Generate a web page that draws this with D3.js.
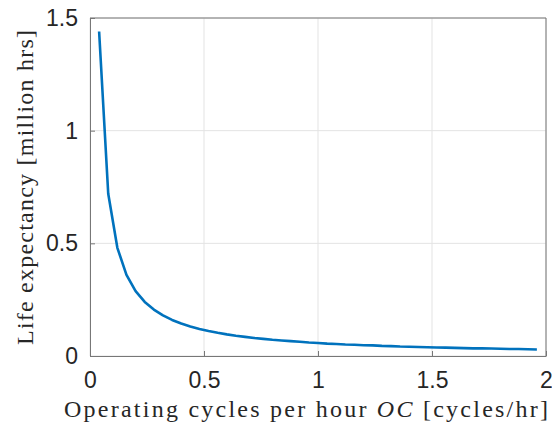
<!DOCTYPE html>
<html lang="en">
<head>
    <meta charset="utf-8">
    <title>Life expectancy</title>
    <script type="text/javascript" src="https://d3js.org/d3.v7.min.js"></script>
    <style>
        body { margin: 0; background: #fff; }
        .tick text { font-family: "Liberation Sans", Arial, sans-serif; fill: #262626; }
        .lbl { font-family: "Liberation Serif", "DejaVu Serif", serif; fill: #262626; }
    </style>
</head>
<body>
    <div id="chart"></div>
    <script type="text/javascript">
        // operating cycles per hour
        const cycles = [0.04, 0.08, 0.12, 0.16, 0.20, 0.24, 0.28, 0.32, 0.36, 0.40,
                        0.44, 0.48, 0.52, 0.56, 0.60, 0.64, 0.68, 0.72, 0.76, 0.80,
                        0.84, 0.88, 0.92, 0.96, 1.00, 1.04, 1.08, 1.12, 1.16, 1.20,
                        1.24, 1.28, 1.32, 1.36, 1.40, 1.44, 1.48, 1.52, 1.56, 1.60,
                        1.64, 1.68, 1.72, 1.76, 1.80, 1.84, 1.88, 1.92, 1.96];
        // life expectancy, million hrs
        const life = [1.440, 0.720, 0.480, 0.360, 0.288, 0.240, 0.206, 0.180, 0.160, 0.144,
                      0.131, 0.120, 0.111, 0.103, 0.096, 0.090, 0.085, 0.080, 0.076, 0.072,
                      0.069, 0.066, 0.063, 0.060, 0.058, 0.055, 0.053, 0.051, 0.050, 0.048,
                      0.047, 0.045, 0.044, 0.042, 0.041, 0.040, 0.039, 0.038, 0.037, 0.036,
                      0.035, 0.034, 0.034, 0.033, 0.032, 0.031, 0.031, 0.030, 0.029];
        const xTicks = [0, 0.5, 1, 1.5, 2];
        const yTicks = [0, 0.5, 1, 1.5];

        const width = 552, height = 428;
        const margin = {left: 90, right: 6, top: 18, bottom: 72};

        const svg = d3.select("#chart").append("svg")
            .attr("width", width).attr("height", height);

        const xScale = d3.scaleLinear().domain([0, 2]).range([margin.left, width - margin.right]);
        const yScale = d3.scaleLinear().domain([0, 1.5]).range([height - margin.bottom, margin.top]);

        // grid
        svg.append("g").selectAll("line").data(xTicks).enter().append("line")
            .attr("x1", d => xScale(d)).attr("x2", d => xScale(d))
            .attr("y1", yScale(0)).attr("y2", yScale(1.5))
            .attr("stroke", "#e3e3e3").attr("stroke-width", 1);
        svg.append("g").selectAll("line").data(yTicks).enter().append("line")
            .attr("x1", xScale(0)).attr("x2", xScale(2))
            .attr("y1", d => yScale(d)).attr("y2", d => yScale(d))
            .attr("stroke", "#e3e3e3").attr("stroke-width", 1);

        // curve
        const line = d3.line().x((d, i) => xScale(cycles[i])).y(d => yScale(d));
        svg.append("path")
            .datum(life)
            .attr("d", line)
            .attr("fill", "none")
            .attr("stroke", "#0072BD")
            .attr("stroke-width", 2.6)
            .attr("stroke-linejoin", "round");

        // axes
        const xAxis = d3.axisBottom(xScale).tickValues(xTicks).tickFormat(d3.format("")).tickSizeInner(-5).tickSizeOuter(0).tickPadding(16);
        const yAxis = d3.axisLeft(yScale).tickValues(yTicks).tickFormat(d3.format("")).tickSizeInner(-5).tickSizeOuter(0).tickPadding(12);

        const gx = svg.append("g")
            .attr("transform", "translate(0," + yScale(0) + ")")
            .call(xAxis);
        const gy = svg.append("g")
            .attr("transform", "translate(" + xScale(0) + ",0)")
            .call(yAxis);
        [gx, gy].forEach(g => {
            g.selectAll(".domain").attr("stroke", "#777");
            g.selectAll(".tick line").attr("stroke", "#777");
            g.selectAll(".tick text").attr("font-size", 23);
        });

        // box top and right
        svg.append("line")
            .attr("x1", xScale(0)).attr("x2", xScale(2))
            .attr("y1", yScale(1.5)).attr("y2", yScale(1.5))
            .attr("stroke", "#777");
        svg.append("line")
            .attr("x1", xScale(2)).attr("x2", xScale(2))
            .attr("y1", yScale(0)).attr("y2", yScale(1.5))
            .attr("stroke", "#777");

        // labels
        const xl = svg.append("text").attr("class", "lbl")
            .attr("x", 64).attr("y", 417)
            .attr("font-size", 24)
            .attr("textLength", 484).attr("lengthAdjust", "spacing");
        xl.append("tspan").text("Operating cycles per hour ");
        xl.append("tspan").attr("font-style", "italic").text("OC");
        xl.append("tspan").text("   [cycles/hr]");

        svg.append("text").attr("class", "lbl")
            .attr("transform", "translate(33,345) rotate(-90)")
            .attr("font-size", 24)
            .attr("textLength", 315).attr("lengthAdjust", "spacing")
            .text("Life expectancy [million hrs]");
    </script>
</body>
</html>
